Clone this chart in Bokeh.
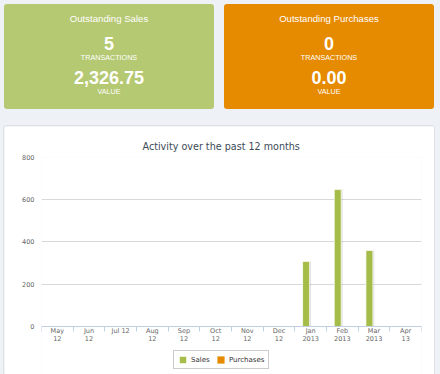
from bokeh.plotting import figure
from bokeh.layouts import column
from bokeh.models import (ColumnDataSource, Range1d, FixedTicker, Legend, LegendItem, Div)
from bokeh.transform import dodge
from bokeh.embed import file_html
from bokeh.resources import INLINE

# ---------------- data ----------------
months = ["May\n12", "Jun\n12", "Jul 12", "Aug\n12", "Sep\n12", "Oct\n12",
          "Nov\n12", "Dec\n12", "Jan\n2013", "Feb\n2013", "Mar\n2013", "Apr\n13"]
sales = [0, 0, 0, 0, 0, 0, 0, 0, 308, 648, 360, 0]
purchases = [0, 0, 0, 0, 0, 0, 0, 0, 0, 0, 0, 0]
y_ticks = [0, 200, 400, 600, 800]

card_titles = ["Outstanding Sales", "Outstanding Purchases"]
card_counts = ["5", "0"]
card_values = ["2,326.75", "0.00"]
card_colors = ["#b5c872", "#e68a00"]

BG = "#eef1f5"
SALES_C = "#a5bd48"
PURCH_C = "#e68a00"

# ---------------- top cards (HTML) ----------------
card_left = [4, 224]
parts = []
for left, title, count, val, color in zip(card_left, card_titles, card_counts,
                                          card_values, card_colors):
    parts.append(
        f'<div style="position:absolute;left:{left}px;top:4px;width:210px;height:105px;'
        f'background:{color};border-radius:3px;"></div>')
    rows = [(title, 9.6, "normal", 14.4), (count, 18, "bold", 34.8),
            ("TRANSACTIONS", 7.2, "normal", 53.9), (val, 18, "bold", 68.8),
            ("VALUE", 7.2, "normal", 88.2)]
    for txt, fs, fw, tp in rows:
        parts.append(
            f'<div style="position:absolute;left:{left}px;width:210px;top:{tp}px;'
            f'font-size:{fs}px;line-height:{fs}px;font-weight:{fw};text-align:center;'
            f'white-space:nowrap;">{txt}</div>')
html = (f'<div style="position:relative;width:440px;height:126px;background:{BG};'
        f'font-family:\'Liberation Sans\',Arial,sans-serif;color:white;overflow:hidden;">'
        + "".join(parts) + '</div>')
cards = Div(text=html, width=440, height=126, margin=(0, 0, 0, 0))

# ---------------- chart ----------------
idx = list(range(len(months)))
src = ColumnDataSource(dict(x=idx, sales=sales, purchases=purchases))

# frame extends below the zero line to hold the legend
p = figure(frame_width=380, frame_height=218,
           x_range=Range1d(-0.5, 11.5), y_range=Range1d(-232, 800),
           toolbar_location=None, output_backend="svg",
           min_border_left=37, min_border_right=13, min_border_top=31,
           min_border_bottom=0)
p.margin = (0, 6, 0, 4)
p.styles = {"box-shadow": "0 0 0 1px #dde2e7", "border-radius": "3px"}
p.background_fill_color = "white"
p.border_fill_color = "white"
p.outline_line_color = None

p.title.text = "Activity over the past 12 months"
p.title.align = "left"
p.title.offset = 101
p.title.text_font = "DejaVu Sans"
p.title.text_font_size = "9.6px"
p.title.text_font_style = "normal"
p.title.text_color = "#3d4a57"
p.title.standoff = 11

p.xgrid.visible = False
p.ygrid.grid_line_color = "#d8d8d8"
p.ygrid.grid_line_width = 1

yax = p.yaxis[0]
yax.ticker = FixedTicker(ticks=y_ticks)
yax.axis_line_color = None
yax.major_tick_line_color = None
yax.minor_tick_line_color = None
yax.major_tick_out = 0
yax.major_label_standoff = 7
yax.major_label_text_font = "DejaVu Sans"
yax.major_label_text_font_size = "6.5px"
yax.major_label_text_color = "#666666"

xax = p.xaxis[0]
xax.fixed_location = 0
xax.ticker = FixedTicker(ticks=idx, minor_ticks=[i - 0.5 for i in range(len(months) + 1)])
xax.major_label_overrides = {i: m for i, m in zip(idx, months)}
xax.axis_line_color = "#c0d0e0"
xax.major_tick_line_color = None
xax.major_tick_out = 0
xax.major_tick_in = 0
xax.minor_tick_line_color = "#c0d0e0"
xax.minor_tick_in = 0
xax.minor_tick_out = 5
xax.major_label_standoff = -4
xax.axis_label_standoff = 0
xax.major_label_text_font = "DejaVu Sans"
xax.major_label_text_font_size = "6.5px"
xax.major_label_text_line_height = 0.95
xax.major_label_text_color = "#666666"

# shadow for sales bars
p.vbar(x=dodge("x", -0.10, range=p.x_range), top="sales", width=0.22, source=src,
       fill_color="black", fill_alpha=0.12, line_color=None)
r_sales = p.vbar(x=dodge("x", -0.145, range=p.x_range), top="sales", width=0.22,
                 source=src, fill_color=SALES_C, line_color="white",
                 line_alpha=0.7, line_width=1)
r_purch = p.vbar(x=dodge("x", 0.145, range=p.x_range), top="purchases", width=0.22,
                 source=src, fill_color=PURCH_C, line_color=None)

legend = Legend(items=[LegendItem(label="Sales", renderers=[r_sales]),
                       LegendItem(label="Purchases", renderers=[r_purch])],
                location=(132, 6), orientation="horizontal")
legend.label_text_font = "DejaVu Sans"
legend.label_text_font_size = "7px"
legend.label_text_color = "#333333"
legend.glyph_width = 9
legend.glyph_height = 9
legend.label_height = 9
legend.label_standoff = 4
legend.spacing = 5
legend.padding = 4
legend.margin = 0
legend.border_line_color = "#999999"
legend.border_line_width = 1
legend.background_fill_color = "white"
legend.background_fill_alpha = 1
p.add_layout(legend, "center")

layout = column(cards, p, spacing=0, styles={"background-color": BG})
open("out.html", "w").write(file_html(layout, INLINE))
